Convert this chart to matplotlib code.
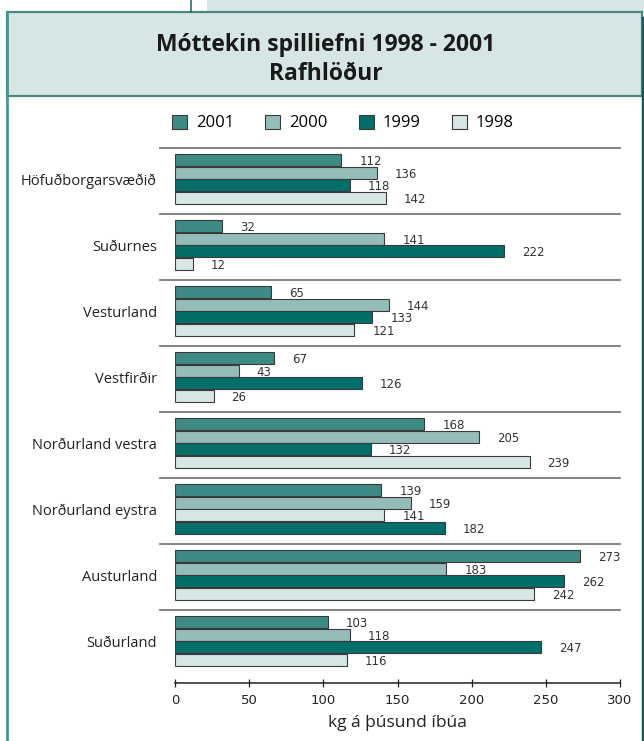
import matplotlib
matplotlib.use("Agg")
import matplotlib.pyplot as plt
from matplotlib.patches import Rectangle, Patch
from matplotlib.lines import Line2D

# Data (kg per thousand inhabitants)
regions = ["Höfuðborgarsvæðið", "Suðurnes", "Vesturland", "Vestfirðir",
           "Norðurland vestra", "Norðurland eystra", "Austurland", "Suðurland"]
years = ["2001", "2000", "1999", "1998"]
v2001 = [112, 32, 65, 67, 168, 139, 273, 103]
v2000 = [136, 141, 144, 43, 205, 159, 183, 118]
v1999 = [118, 222, 133, 126, 132, 182, 262, 247]
v1998 = [142, 12, 121, 26, 239, 141, 242, 116]
colors = ["#3e8a84", "#94bdba", "#006f69", "#d7e7e6"]

# bar order inside each group (top to bottom); Norðurland eystra has 1998 above 1999
order = [[0, 1, 2, 3]] * 8
order[5] = [0, 1, 3, 2]

W, H = 644, 741
fig = plt.figure(figsize=(W / 100, H / 100), dpi=100)

def fx(x):
    return x / W

def fy(y):
    return 1 - y / H

def rect(x0, y0, x1, y1, **kw):
    fig.add_artist(Rectangle((fx(x0), fy(y1)), fx(x1) - fx(x0), fy(y0) - fy(y1),
                             transform=fig.transFigure, **kw))

# frame decoration
rect(207, -2, 646, 12, facecolor="#d6e6e5", edgecolor="none")
fig.add_artist(Line2D([fx(191), fx(191)], [fy(0), fy(12)], transform=fig.transFigure,
                      color="#2f6f6a", lw=1.2))
fig.add_artist(Line2D([fx(6.5), fx(6.5)], [fy(12), fy(741)], transform=fig.transFigure,
                      color="#4a968e", lw=2))
fig.add_artist(Line2D([fx(642.5), fx(642.5)], [fy(18), fy(741)], transform=fig.transFigure,
                      color="#0f5f59", lw=2.5))
rect(6.5, 12, 641.5, 96, facecolor="#d6e6e5", edgecolor="#4d8782", lw=1.6)

fig.text(fx(326), fy(45), "Móttekin spilliefni 1998 - 2001", ha="center", va="center",
         fontsize=16.5, fontweight="bold", family=["Open Sans", "DejaVu Sans"], color="#1a1a1a")
fig.text(fx(326), fy(74), "Rafhlöður", ha="center", va="center",
         fontsize=16.5, fontweight="bold", family=["Open Sans", "DejaVu Sans"], color="#1a1a1a")

# axes: x 0 at 175px, 300 at 620px; top at 148px, axis line at 683px
ax = fig.add_axes([fx(175), fy(683), fx(620) - fx(175), fy(148) - fy(683)])

series = [v2001, v2000, v1999, v1998]
step = 0.19
hgt = 0.178
narrow = ["Liberation Sans Narrow", "DejaVu Sans"]
for g in range(len(regions)):
    for pos, s in enumerate(order[g]):
        y = g + (pos - 1.5) * step
        val = series[s][g]
        ax.barh(y, val, height=hgt, color=colors[s], edgecolor="#3a3a3a", lw=0.8)
        ax.annotate(str(val), (val, y), xytext=(13, -1), textcoords="offset points",
                    ha="left", va="center", fontsize=8.5, color="#333333", family=narrow)
    # group separator line
    ax.plot([-10, 300], [g - 0.47, g - 0.47], color="#7a7a7a", lw=1.3, clip_on=False)

ax.set_xlim(0, 300)
ax.set_ylim(7 + 0.636, -0.47)
ax.set_yticks(range(len(regions)))
ax.set_yticklabels(regions, fontsize=10.5, family=["Open Sans", "DejaVu Sans"], color="#222222")
ax.tick_params(axis="y", length=0, pad=13)
ax.set_xticks([0, 50, 100, 150, 200, 250, 300])
ax.tick_params(axis="x", direction="inout", length=6, width=0.9, labelsize=9.5, pad=5,
               colors="#222222")
for lab in ax.get_xticklabels():
    lab.set_family(narrow)
for sp in ["left", "right", "top"]:
    ax.spines[sp].set_visible(False)
ax.spines["bottom"].set_linewidth(1.1)
ax.spines["bottom"].set_color("#222222")
ax.set_xlabel("kg á þúsund íbúa", fontsize=12.5, family=["Open Sans", "DejaVu Sans"],
              color="#222222", labelpad=6)

handles = [Patch(facecolor=c, edgecolor="#3a3a3a", lw=0.8) for c in colors]
fig.legend(handles, years, loc="center", bbox_to_anchor=(fx(343), fy(123)), ncol=4,
           frameon=False, handlelength=0.9, handleheight=0.9, handletextpad=0.55,
           columnspacing=1.85, prop={"family": ["Open Sans", "DejaVu Sans"], "size": 12})

fig.savefig("out.png", dpi=100)
